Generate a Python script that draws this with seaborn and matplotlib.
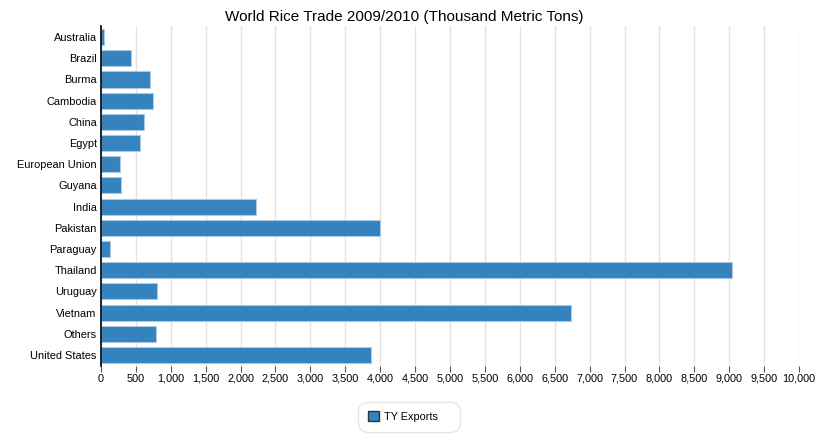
import pandas as pd
import seaborn as sns
import matplotlib.pyplot as plt
from matplotlib.ticker import FuncFormatter, MultipleLocator

# data (thousand metric tons)
countries = ["Australia", "Brazil", "Burma", "Cambodia", "China", "Egypt",
             "European Union", "Guyana", "India", "Pakistan", "Paraguay",
             "Thailand", "Uruguay", "Vietnam", "Others", "United States"]
exports = [50, 425, 700, 750, 610, 565, 275, 290, 2220, 4000, 130,
           9040, 800, 6730, 795, 3865]

df = pd.DataFrame({"country": countries, "exports": exports})

sns.set_style("white")
plt.rcParams['font.family'] = ['Liberation Sans', 'DejaVu Sans']
plt.rcParams['text.color'] = 'black'
plt.rcParams['xtick.color'] = 'black'
plt.rcParams['ytick.color'] = 'black'

fig = plt.figure(figsize=(8.19, 4.34), dpi=100)
ax = fig.add_axes([0.1233, 0.1576, 0.8523, 0.7814])

sns.barplot(data=df, x="exports", y="country", orient="h", ax=ax,
            color="#3482be", saturation=1, width=0.76,
            edgecolor="#a9c9e4", linewidth=0.8, label="TY Exports")

ax.set_xlim(0, 10000)
ax.xaxis.set_major_locator(MultipleLocator(500))
ax.xaxis.set_major_formatter(FuncFormatter(lambda v, p: "{:,.0f}".format(v)))
ax.grid(axis="x", color="#e3e3e3", linewidth=1)
ax.set_axisbelow(True)
ax.set_xlabel("")
ax.set_ylabel("")

for s in ["top", "right", "bottom"]:
    ax.spines[s].set_visible(False)
ax.spines["left"].set_color("black")
ax.spines["left"].set_linewidth(1.2)

ax.tick_params(axis="x", length=4, width=0.8, color="#555555", labelsize=7.8, pad=2, bottom=True)
ax.tick_params(axis="y", length=0, labelsize=7.9, pad=3)

# title is centred on the whole figure, not the axes
fig.text(0.494, 0.977, "World Rice Trade 2009/2010 (Thousand Metric Tons)",
         ha="center", va="top", fontsize=11)

leg = ax.legend(loc="upper center", bbox_to_anchor=(0.441, -0.09), frameon=True,
                fontsize=7.8, handlelength=1.0, handleheight=1.0, borderpad=0.9,
                handletextpad=0.5, fancybox=True)
leg.get_frame().set_edgecolor("#e0e0e0")
leg.get_frame().set_boxstyle("round,pad=0,rounding_size=0.9")
for h in leg.legend_handles:
    h.set_edgecolor("#333333")
    h.set_linewidth(1)
leg.get_texts()[0].set_text("TY Exports    ")

fig.savefig("out.png", dpi=100)
